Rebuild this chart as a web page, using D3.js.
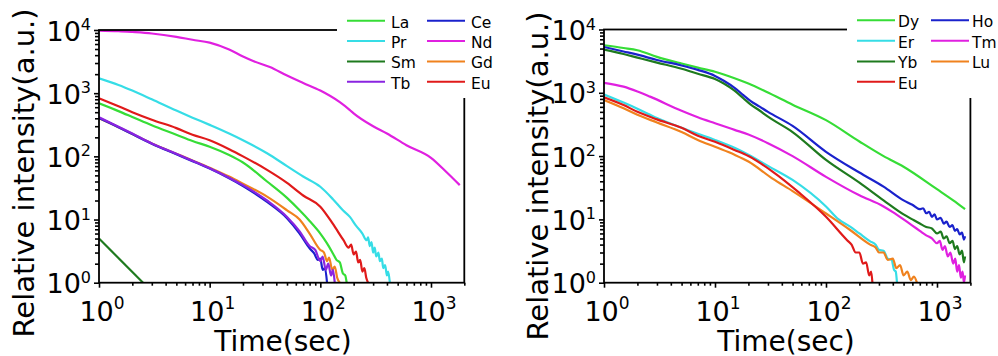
<!DOCTYPE html>
<html><head><meta charset="utf-8">
<script src="https://cdn.jsdelivr.net/npm/d3@7"></script>
<style>body{margin:0;background:#fff}svg{display:block}text{font-family:"DejaVu Sans",sans-serif;fill:#000}</style>
</head><body>
<svg id="c" width="998" height="356"></svg>
<script>
// ---------- data (time sec, relative intensity) ----------
const xTickExponents = [0, 1, 2, 3];
const yTickExponents = [0, 1, 2, 3, 4];

// Left panel
const leftNames  = ["La", "Ce", "Pr", "Nd", "Sm", "Gd", "Tb", "Eu"];
const leftColors = ["#36dd36", "#1a22cc", "#36dde6", "#e020e0", "#1e7a1e", "#f0821e", "#8a24e0", "#e01a1a"];
const La = [[1,690],[1.5,520],[2,420],[3,310],[5,220],[7,175],[10,142],[15,105],[20,80],[33,40],[50,22],[65,14],[80,9.5],[100,6],[115,4.2],[130,2.9],[140,2.3],[150,2.1],[160,1.4],[168,1.3],[173,1.0]];
const Ce = [[1,405],[1.5,290],[2,225],[3,158],[5,108],[7,84],[10,64],[15,45],[20,34],[33,19],[50,10.5],[65,6],[80,3.5],[88,2.9],[95,2.3],[100,2.4],[105,1.6],[110,1.7],[115,1.0]];
const Pr = [[1,1720],[1.5,1350],[2,1100],[3,800],[5,530],[7,410],[10,315],[15,230],[20,180],[33,112],[50,70],[70,48],[100,33],[130,21],[160,14],[185,11],[210,8],[240,6],[262,4.7],[270,5.2],[280,3.8],[290,4.4],[300,3.0],[310,3.6],[320,2.6],[335,3.0],[345,2.2],[360,2.4],[370,1.7],[385,1.9],[400,1.3],[410,1.5],[425,1.0]];
const Nd = [[1,9800],[1.5,9600],[2,9300],[3,8800],[5,7800],[7,7000],[10,6300],[15,4900],[20,3800],[25,3200],[35,2600],[50,1900],[70,1450],[100,1100],[150,720],[185,540],[200,480],[300,300],[400,230],[600,150],[1000,95],[1400,55],[1820,35]];
const Sm = [[1,5],[2.5,1]];
const Gd = [[1,400],[1.5,290],[2,225],[3,160],[5,110],[7,86],[10,66],[15,48],[20,37],[33,23],[50,14],[65,10],[80,6],[100,3.3],[108,3.0],[115,2.2],[120,2.5],[128,1.6],[135,1.8],[142,1.2],[150,1.0]];
const Tb = [[1,415],[1.5,295],[2,230],[3,160],[5,110],[7,85],[10,65],[15,46],[20,35],[33,20],[50,11],[65,6.5],[80,3.8],[90,3.3],[100,2.2],[105,2.6],[112,1.6],[118,2.0],[125,1.3],[130,1.6],[135,1.0]];
const EuL = [[1,830],[1.5,620],[2,500],[3,380],[5,280],[7,220],[10,180],[15,130],[20,100],[33,61],[50,38],[70,24],[100,16],[130,8.5],[162,4.7],[180,3.6],[190,4.0],[200,2.8],[210,3.1],[220,2.1],[229,2.3],[240,1.5],[250,1.7],[260,1.2],[270,1.0]];
const leftData = [La, Ce, Pr, Nd, Sm, Gd, Tb, EuL];

// Right panel
const rightNames  = ["Dy", "Ho", "Er", "Tm", "Yb", "Lu", "Eu"];
const rightColors = ["#36dd36", "#1a22cc", "#36dde6", "#e020e0", "#1e7a1e", "#f0821e", "#e01a1a"];
const Dy = [[1,5650],[1.5,5100],[2,4700],[3,3700],[5,2900],[7,2500],[10,2150],[15,1700],[20,1400],[29,1040],[50,650],[100,370],[200,170],[330,100],[500,68],[1000,30],[1400,20],[1790,14.5]];
const Ho = [[1,5300],[1.5,4500],[2,4000],[3,3300],[5,2700],[7,2300],[10,1850],[12,1550],[15,1200],[18,920],[21,740],[25,610],[30,500],[50,300],[100,117],[200,55],[330,33],[500,20],[600,17],[700,14.5],[750,15],[800,12.5],[850,13.2],[900,11],[950,12],[1000,10],[1080,10.6],[1150,8.6],[1220,9.2],[1300,7.6],[1380,8.1],[1450,6.6],[1520,7.0],[1600,5.8],[1680,6.2],[1750,4.8],[1790,5.4]];
const Er = [[1,940],[1.5,700],[2,560],[3,400],[5,280],[7,225],[10,180],[15,135],[20,105],[30,70],[50,42],[100,16],[130,10],[165,7.7],[200,6],[250,4.5],[280,4.0],[300,3.3],[330,3.2],[360,2.4],[390,2.3],[410,1.6],[425,1.5],[436,1.0]];
const Tm = [[1,1440],[1.5,1250],[2,1050],[2.6,870],[5,520],[7,410],[10,330],[15,260],[20,220],[30,160],[50,100],[100,47],[200,24],[330,16],[400,13],[500,10],[600,8],[700,6.6],[800,5.6],[900,5.0],[1000,4.2],[1060,4.6],[1120,3.3],[1180,3.8],[1250,2.6],[1320,3.0],[1400,2.0],[1460,2.4],[1520,1.5],[1580,1.9],[1640,1.2],[1700,1.5],[1750,1.0],[1790,1.3]];
const Yb = [[1,4800],[1.5,4100],[2,3600],[3,3000],[5,2400],[7,2000],[10,1650],[12,1400],[15,1080],[18,820],[21,650],[25,530],[30,420],[50,240],[100,87],[200,38],[330,20],[500,12],[600,10],[700,8.6],[800,7.6],[900,7.2],[1000,6.0],[1080,6.4],[1150,5.0],[1220,5.4],[1300,4.2],[1380,4.6],[1450,3.4],[1520,3.8],[1600,2.8],[1680,3.2],[1750,2.1],[1790,2.6]];
const Lu = [[1,770],[1.5,570],[2,450],[3,340],[5,240],[7,180],[10,140],[15,105],[20,82],[33,44],[50,28],[100,12.4],[165,6.8],[250,4.0],[280,3.6],[300,3.0],[330,3.0],[360,2.3],[400,2.4],[430,1.7],[465,1.9],[500,1.3],[540,1.5],[580,1.1],[620,1.25],[660,1.0]];
const EuR = [[1,850],[1.5,640],[2,500],[3,380],[5,280],[7,210],[10,168],[15,125],[20,100],[33,57],[58,26],[100,11],[155,4.7],[170,4.0],[185,3.0],[200,3.0],[215,2.0],[230,2.1],[245,1.3],[255,1.5],[262,1.0]];
const rightData = [Dy, Ho, Er, Tm, Yb, Lu, EuR];

const xLabel = "Time(sec)";
const yLabel = "Relative intensity(a.u.)";

// ---------- drawing ----------
const svg = d3.select("#c");

function panel(cfg) {
  const g = svg.append("g");
  const x = d3.scaleLog().domain([1, 2000]).range([cfg.x0, cfg.x1]);
  const y = d3.scaleLog().domain([1, 10000]).range([cfg.yb, cfg.yt]);

  const clipId = "clip" + cfg.id;
  svg.append("clipPath").attr("id", clipId).append("rect")
    .attr("x", cfg.x0).attr("y", cfg.yt).attr("width", cfg.x1 - cfg.x0).attr("height", cfg.yb - cfg.yt);

  const line = d3.line().x(d => x(d[0])).y(d => y(d[1])).curve(d3.curveMonotoneX);
  const plot = g.append("g").attr("clip-path", `url(#${clipId})`);
  cfg.order.forEach(i => {
    plot.append("path").datum(cfg.data[i]).attr("d", line)
      .attr("fill", "none").attr("stroke", cfg.colors[i]).attr("stroke-width", 2.2)
      .attr("stroke-linejoin", "round");
  });

  // frame
  g.append("rect").attr("x", cfg.x0).attr("y", cfg.yt).attr("width", cfg.x1 - cfg.x0)
    .attr("height", cfg.yb - cfg.yt).attr("fill", "none").attr("stroke", "#000").attr("stroke-width", 1.8);

  // minor/major ticks
  const majX = xTickExponents.map(e => Math.pow(10, e));
  const minX = [];
  for (let e = 0; e <= 3; e++) for (let k = 2; k <= 9; k++) { const v = k * Math.pow(10, e); if (v <= 2000) minX.push(v); }
  const majY = yTickExponents.map(e => Math.pow(10, e));
  const minY = [];
  for (let e = 0; e < 4; e++) for (let k = 2; k <= 9; k++) minY.push(k * Math.pow(10, e));

  const styleAxis = a => { a.select(".domain").remove(); a.selectAll("text").remove(); a.selectAll("line").attr("stroke", "#000").attr("stroke-width", 1.6); };
  g.append("g").attr("transform", `translate(0,${cfg.yb})`).call(d3.axisBottom(x).tickValues(majX).tickSize(5)).call(styleAxis);
  g.append("g").attr("transform", `translate(0,${cfg.yb})`).call(d3.axisBottom(x).tickValues(minX).tickSize(3)).call(styleAxis);
  g.append("g").attr("transform", `translate(${cfg.x0},0)`).call(d3.axisLeft(y).tickValues(majY).tickSize(5)).call(styleAxis);
  g.append("g").attr("transform", `translate(${cfg.x0},0)`).call(d3.axisLeft(y).tickValues(minY).tickSize(4)).call(styleAxis);

  // tick labels
  xTickExponents.forEach(e => {
    const t = g.append("text").attr("x", x(Math.pow(10, e)) + 3).attr("y", cfg.yb + 38.5)
      .attr("text-anchor", "middle").style("font-size", "27px");
    t.append("tspan").text("10");
    t.append("tspan").attr("dy", -12).style("font-size", "17px").text(String(e));
  });
  yTickExponents.forEach(e => {
    const t = g.append("text").attr("x", cfg.x0 - 8).attr("y", y(Math.pow(10, e)) + 10.5)
      .attr("text-anchor", "end").style("font-size", "27px");
    t.append("tspan").text("10");
    t.append("tspan").attr("dy", -10.5).style("font-size", "16px").text(String(e));
  });

  // axis titles
  g.append("text").attr("x", cfg.xTitleX).attr("y", 350.5).attr("text-anchor", "middle")
    .style("font-size", "28px").text(xLabel);
  g.append("text").attr("transform", `translate(${cfg.yTitleX},${cfg.yTitleY}) rotate(-90)`)
    .attr("text-anchor", "middle").style("font-size", "29px").text(yLabel);

  // legend (white box hides top-right of frame)
  g.append("rect").attr("x", cfg.legX).attr("y", 0).attr("width", 998 - cfg.legX).attr("height", 98).attr("fill", "#fff");
  cfg.legend.forEach(it => {
    const i = cfg.names.indexOf(it.name);
    const ly = cfg.legRows[it.row];
    const lx = cfg.legCols[it.col];
    g.append("line").attr("x1", lx).attr("x2", lx + 38).attr("y1", ly).attr("y2", ly)
      .attr("stroke", cfg.colors[i]).attr("stroke-width", 2);
    g.append("text").attr("x", lx + cfg.legGap).attr("y", ly + 7).style("font-size", "15.5px").text(it.name);
  });
}

panel({
  id: "L", x0: 99, x1: 464.3, yt: 30, yb: 282.7,
  names: leftNames, colors: leftColors, data: leftData,
  order: [3, 2, 7, 0, 5, 1, 6, 4],
  xTitleX: 283, yTitleX: 34, yTitleY: 173,
  legX: 337, legCols: [347, 427], legRows: [20.7, 40.9, 61.4, 81.7], legGap: 44,
  legend: [
    {name: "La", col: 0, row: 0}, {name: "Pr", col: 0, row: 1}, {name: "Sm", col: 0, row: 2}, {name: "Tb", col: 0, row: 3},
    {name: "Ce", col: 1, row: 0}, {name: "Nd", col: 1, row: 1}, {name: "Gd", col: 1, row: 2}, {name: "Eu", col: 1, row: 3}
  ]
});

panel({
  id: "R", x0: 604, x1: 970.4, yt: 29.5, yb: 282.7,
  names: rightNames, colors: rightColors, data: rightData,
  order: [0, 3, 2, 5, 6, 4, 1],
  xTitleX: 786, yTitleX: 548, yTitleY: 176,
  legX: 847, legCols: [857, 931], legRows: [20.3, 40.7, 61.4, 81.7], legGap: 41,
  legend: [
    {name: "Dy", col: 0, row: 0}, {name: "Er", col: 0, row: 1}, {name: "Yb", col: 0, row: 2}, {name: "Eu", col: 0, row: 3},
    {name: "Ho", col: 1, row: 0}, {name: "Tm", col: 1, row: 1}, {name: "Lu", col: 1, row: 2}
  ]
});
</script>
</body></html>
